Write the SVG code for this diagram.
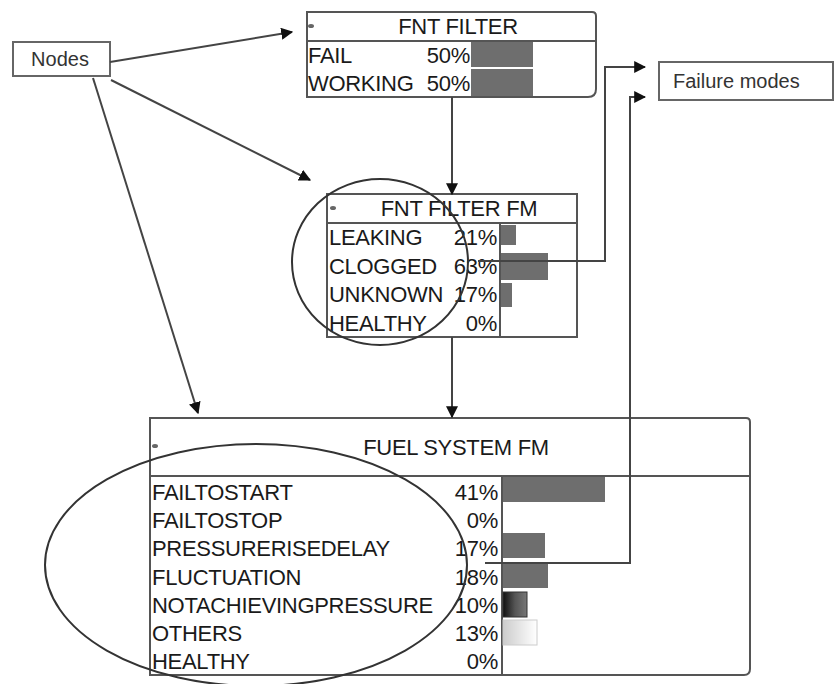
<svg xmlns="http://www.w3.org/2000/svg" width="837" height="684" viewBox="0 0 837 684">
<style>
.box{fill:#fff;stroke:#555;stroke-width:2}
.sep{stroke:#555;stroke-width:2;fill:none}
.t{font-family:"Liberation Sans",Arial,sans-serif;font-size:22px;fill:#1a1a1a;letter-spacing:-0.3px}
.lbl{font-family:"Liberation Sans",Arial,sans-serif;font-size:20px;fill:#333}
.r{text-anchor:end}
.m{text-anchor:middle}
.bar{fill:#6e6e6e}
.con{stroke:#444;stroke-width:2;fill:none}
.circ{stroke:#333;stroke-width:2;fill:none}
.ico{fill:#666}
</style>
<defs>
<marker id="ah" viewBox="0 0 10 10" refX="9" refY="5" markerWidth="6" markerHeight="6" orient="auto" markerUnits="strokeWidth">
<path d="M0,0 L10,5 L0,10 z" fill="#111"/>
</marker>
<linearGradient id="gDark" x1="0" x2="1" y1="0" y2="0">
<stop offset="0" stop-color="#111"/><stop offset="0.5" stop-color="#555"/><stop offset="1" stop-color="#777"/>
</linearGradient>
<linearGradient id="gLight" x1="0" x2="1" y1="0" y2="0">
<stop offset="0" stop-color="#ccc"/><stop offset="1" stop-color="#fff"/>
</linearGradient>
</defs>
<rect width="837" height="684" fill="#fff"/>

<g id="nodes-label">
<rect x="13" y="42" width="97" height="34" fill="#fff" stroke="#666" stroke-width="2"/>
<text class="lbl m" x="60" y="66">Nodes</text>
</g>

<g id="failure-modes-label">
<rect x="659" y="62" width="174" height="38" fill="#fff" stroke="#666" stroke-width="2"/>
<text class="lbl" x="673" y="88">Failure modes</text>
</g>

<g id="fnt-filter">
<path class="box" d="M307,12 H592 Q596,12 596,16 V89 Q596,97 588,97 H307 Z"/>
<line class="sep" x1="307" y1="41" x2="596" y2="41"/>
<ellipse class="ico" cx="311" cy="26" rx="3" ry="2"/>
<text class="t m" x="458" y="34">FNT FILTER</text>
<rect class="bar" x="471" y="42" width="62" height="25"/>
<rect class="bar" x="471" y="69" width="62" height="27"/>
<text class="t" x="308" y="63">FAIL</text>
<text class="t r" x="470" y="63">50%</text>
<text class="t" x="308" y="91">WORKING</text>
<text class="t r" x="470" y="91">50%</text>
</g>

<g id="fnt-filter-fm">
<rect class="box" x="327" y="194" width="250" height="143"/>
<line class="sep" x1="327" y1="223" x2="577" y2="223"/>
<line class="sep" x1="500" y1="223" x2="500" y2="337"/>
<ellipse class="ico" cx="333" cy="208" rx="3" ry="2"/>
<text class="t m" x="459" y="216">FNT FILTER FM</text>
<rect class="bar" x="501" y="225" width="15" height="20"/>
<rect class="bar" x="501" y="253" width="47" height="27"/>
<rect class="bar" x="501" y="283" width="11" height="24"/>
<text class="t" x="329" y="245">LEAKING</text>
<text class="t r" x="497" y="245">21%</text>
<text class="t" x="329" y="274">CLOGGED</text>
<text class="t r" x="497" y="274">63%</text>
<text class="t" x="329" y="302">UNKNOWN</text>
<text class="t r" x="497" y="302">17%</text>
<text class="t" x="329" y="331">HEALTHY</text>
<text class="t r" x="497" y="331">0%</text>
</g>

<g id="fuel-system-fm">
<path class="box" d="M150,418 H746 Q750,418 750,422 V669 Q750,675 744,675 H150 Z"/>
<line class="sep" x1="150" y1="476" x2="750" y2="476"/>
<line class="sep" x1="502" y1="476" x2="502" y2="675"/>
<ellipse class="ico" cx="155" cy="446" rx="3" ry="2"/>
<text class="t m" x="456" y="455">FUEL SYSTEM FM</text>
<rect class="bar" x="503" y="477" width="102" height="25"/>
<rect class="bar" x="503" y="533" width="42" height="25"/>
<rect class="bar" x="503" y="562" width="45" height="26"/>
<rect x="503" y="592" width="24" height="25" fill="url(#gDark)" stroke="#333" stroke-width="1"/>
<rect x="503" y="620" width="34" height="25" fill="url(#gLight)" stroke="#ccc" stroke-width="1"/>
<text class="t" x="152" y="500">FAILTOSTART</text>
<text class="t r" x="498" y="500">41%</text>
<text class="t" x="152" y="528">FAILTOSTOP</text>
<text class="t r" x="498" y="528">0%</text>
<text class="t" x="152" y="556">PRESSURERISEDELAY</text>
<text class="t r" x="498" y="556">17%</text>
<text class="t" x="152" y="585">FLUCTUATION</text>
<text class="t r" x="498" y="585">18%</text>
<text class="t" x="152" y="613">NOTACHIEVINGPRESSURE</text>
<text class="t r" x="498" y="613">10%</text>
<text class="t" x="152" y="641">OTHERS</text>
<text class="t r" x="498" y="641">13%</text>
<text class="t" x="152" y="669">HEALTHY</text>
<text class="t r" x="498" y="669">0%</text>
</g>

<g id="connectors">
<line class="con" x1="110" y1="62" x2="292" y2="32" marker-end="url(#ah)"/>
<line class="con" x1="111" y1="80" x2="310" y2="180" marker-end="url(#ah)"/>
<line class="con" x1="93" y1="78" x2="198" y2="413" marker-end="url(#ah)"/>
<line class="con" x1="452" y1="97" x2="452" y2="194" marker-end="url(#ah)"/>
<line class="con" x1="452" y1="337" x2="452" y2="417" marker-end="url(#ah)"/>
<polyline class="con" points="478,261 605,261 605,67 645,67" marker-end="url(#ah)"/>
<polyline class="con" points="485,563 630,563 630,97 645,97" marker-end="url(#ah)"/>
</g>

<g id="highlights">
<ellipse class="circ" cx="380" cy="262" rx="88" ry="83"/>
<ellipse class="circ" cx="256" cy="565" rx="211" ry="121"/>
</g>
</svg>
